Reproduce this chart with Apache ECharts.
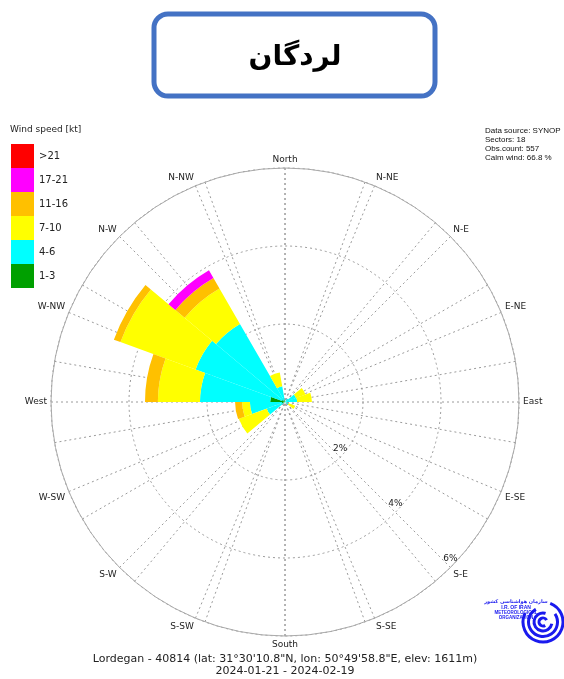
<!DOCTYPE html>
<html>
<head>
<meta charset="utf-8">
<script src="https://cdn.jsdelivr.net/npm/echarts@6/dist/echarts.min.js"></script>
<style>html,body{margin:0;padding:0;background:#fff}#c{width:564px;height:679px}</style>
</head>
<body>
<div id="c"></div>
<script>
// ---- data ----
const sectors = ['0','20','40','60','80','100','120','140','160','180','200','220','240','260','280','300','320','340'];
const dirLabels = ['North','N-NE','N-E','E-NE','East','E-SE','S-E','S-SE','South','S-SW','S-W','W-SW','West','W-NW','N-W','N-NW'];
const speedClasses = ['1-3','4-6','7-10','11-16','17-21','>21'];
const s1_3   = [0,0,0,0,0.03,0,0,0,0,0,0,0,0.03,0.08,0.38,0.08,0.05,0.05];
const s4_6   = [0,0,0.1,0.3,0.28,0.05,0.1,0,0,0,0,0,0.47,0.82,1.80,2.36,2.26,0.36];
const s7_10  = [0,0,0,0.26,0.38,0,0.18,0,0,0,0,0,0.76,0.2,1.08,2.05,1.05,0.36];
const s11_16 = [0,0,0,0,0,0,0,0,0,0,0,0,0,0.18,0.33,0.18,0.31,0];
const s17_21 = [0,0,0,0,0,0,0,0,0,0,0,0,0,0,0,0,0.23,0];
const s21p   = [0,0,0,0,0,0,0,0,0,0,0,0,0,0,0,0,0,0];
const radiusTicks = ['', '2%', '4%', '6%'];
const infoLines = ['Data source: SYNOP','Sectors: 18','Obs.count: 557','Calm wind: 66.8 %'];
const stationLine = 'Lordegan - 40814 (lat: 31°30\'10.8"N, lon: 50°49\'58.8"E, elev: 1611m)';
const periodLine = '2024-01-21 - 2024-02-19';
const titleText = 'لردگان';

// ---- styles ----
const classColors = ['#00A000','#00FFFF','#FFFF00','#FFC000','#FF00FF','#FF0000'];
const classData = [s1_3, s4_6, s7_10, s11_16, s17_21, s21p];
const C = [285, 402], R = 234;
const gridLine = {show:true, lineStyle:{color:'#9a9a9a', type:[2,3], width:1}};
const labelFont = {fontFamily:'DejaVu Sans', fontSize:9, color:'#222'};

const chart = echarts.init(document.getElementById('c'), null, {renderer:'canvas'});

const series = speedClasses.map((name, i) => ({
  name, type:'bar', coordinateSystem:'polar', polarIndex:0, stack:'w',
  barCategoryGap:'0%', data: classData[i], itemStyle:{color: classColors[i]},
  emphasis:{disabled:true}, z:5
}));

const option = {
  animation:false,
  title:[{text:'Wind speed [kt]', left:10, top:125, padding:0, textStyle:{fontFamily:'DejaVu Sans', fontSize:9, fontWeight:'normal', color:'#222'}}],
  legend:{
    orient:'vertical', left:11, top:144, padding:0, itemWidth:23, itemHeight:24, itemGap:0,
    icon:'rect', data:speedClasses.slice().reverse(), selectedMode:false,
    textStyle:{fontFamily:'DejaVu Sans', fontSize:10, color:'#222'}
  },
  polar:[
    {center:C, radius:R},
    {center:C, radius:R},
    {center:C, radius:R},
    {center:C, radius:R}
  ],
  angleAxis:[
    {polarIndex:0, type:'category', data:sectors, startAngle:100, clockwise:true, show:false},
    {polarIndex:1, type:'value', min:0, max:360, interval:20, startAngle:90, clockwise:true,
      axisLine:{show:false}, axisTick:{show:false}, axisLabel:{show:false}, splitLine:gridLine},
    {polarIndex:2, type:'value', min:0, max:360, interval:22.5, startAngle:90, clockwise:true,
      axisLine:{show:true, lineStyle:{color:'#aaa', width:1}}, axisTick:{show:false},
      axisLabel:Object.assign({margin:4, formatter:v => dirLabels[Math.round(v/22.5)] || ''}, labelFont),
      splitLine:gridLine},
    {polarIndex:3, type:'value', min:0, max:360, startAngle:-45, show:false}
  ],
  radiusAxis:[
    {polarIndex:0, type:'value', min:0, max:6, show:false},
    {polarIndex:1, type:'value', min:0, max:6, show:false},
    {polarIndex:2, type:'value', min:0, max:6, interval:2, axisLine:{show:false}, axisTick:{show:false},
      axisLabel:{show:false}, splitLine:gridLine},
    {polarIndex:3, type:'value', min:0, max:6, interval:2, axisLine:{show:false}, axisTick:{show:false},
      splitLine:{show:false},
      axisLabel:Object.assign({margin:0, align:'center', verticalAlign:'bottom', padding:[0,0,4,0], formatter:v => radiusTicks[Math.round(v/2)] || ''}, labelFont)}
  ],
  graphic:[
    {type:'rect', shape:{x:154, y:14, width:281, height:82, r:14}, style:{fill:'#fff', stroke:'#4472C4', lineWidth:5}},
    {type:'text', x:295, y:58, style:{text:titleText, font:'bold 28px "DejaVu Sans"', fill:'#000', align:'center', verticalAlign:'middle'}},
    {type:'text', x:485, y:126, style:{text:infoLines.join('\n'), font:'8px "Liberation Sans"', lineHeight:9, fill:'#111', align:'left', verticalAlign:'top'}},
    {type:'text', x:285, y:659, style:{text:stationLine, font:'11px "DejaVu Sans"', fill:'#222', align:'center', verticalAlign:'middle'}},
    {type:'text', x:285, y:671, style:{text:periodLine, font:'11px "DejaVu Sans"', fill:'#222', align:'center', verticalAlign:'middle'}},
    // logo
    {type:'group', children:[
      {type:'arc', shape:{cx:543, cy:622, r:20, startAngle:-1.2, endAngle:3.6}, style:{stroke:'#1a1aee', lineWidth:3, fill:null}},
      {type:'arc', shape:{cx:543, cy:622, r:14.5, startAngle:-0.6, endAngle:4.2}, style:{stroke:'#1a1aee', lineWidth:3, fill:null}},
      {type:'arc', shape:{cx:543, cy:622, r:9, startAngle:0.2, endAngle:5.0}, style:{stroke:'#1a1aee', lineWidth:3, fill:null}},
      {type:'arc', shape:{cx:543, cy:622, r:4, startAngle:1.0, endAngle:5.8}, style:{stroke:'#1a1aee', lineWidth:3, fill:null}},
      {type:'text', x:516, y:599, style:{text:'سازمان هواشناسی کشور', font:'bold 5px "DejaVu Sans"', fill:'#1a1aee', align:'center'}},
      {type:'text', x:516, y:605, style:{text:'I.R. OF IRAN', font:'bold 5px "Liberation Sans"', fill:'#1a1aee', align:'center'}},
      {type:'text', x:516, y:610, style:{text:'METEOROLOGICAL', font:'bold 4.5px "Liberation Sans"', fill:'#1a1aee', align:'center'}},
      {type:'text', x:516, y:615, style:{text:'ORGANIZATION', font:'bold 4.5px "Liberation Sans"', fill:'#1a1aee', align:'center'}}
    ]}
  ],
  series
};
chart.setOption(option);
</script>
</body>
</html>
